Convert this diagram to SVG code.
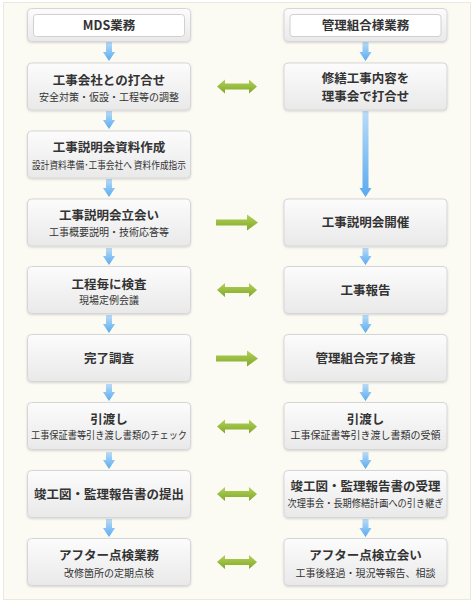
<svg xmlns="http://www.w3.org/2000/svg" width="474" height="603" viewBox="0 0 474 603">
<defs>
<linearGradient id="boxg" x1="0" y1="0" x2="0" y2="1"><stop offset="0" stop-color="#fcfcfc"/><stop offset="1" stop-color="#e9e9e9"/></linearGradient>
<linearGradient id="blueg" x1="0" y1="0" x2="0" y2="1"><stop offset="0" stop-color="#b9dcf7"/><stop offset="1" stop-color="#5aaaf0"/></linearGradient>
<linearGradient id="greeng" x1="0" y1="0" x2="0" y2="1"><stop offset="0" stop-color="#b3d159"/><stop offset="1" stop-color="#80a82a"/></linearGradient>
<filter id="sh" x="-5%" y="-10%" width="110%" height="130%"><feDropShadow dx="0" dy="1" stdDeviation="0.8" flood-color="#000" flood-opacity="0.15"/></filter>
</defs>
<style>
.box{fill:url(#boxg);stroke:#d6d6d6;stroke-width:1;filter:url(#sh)}
.inner{fill:#fff;stroke:#d0d0d0;stroke-width:1}
.t{font-family:"Noto Sans CJK JP","Noto Sans",sans-serif;font-weight:bold;font-size:12.5px;fill:#333;text-anchor:middle}
.h{font-family:"Noto Sans CJK JP","Noto Sans",sans-serif;font-weight:bold;font-size:12.5px;fill:#333;text-anchor:middle}
.s{font-family:"Noto Sans CJK JP","Noto Sans",sans-serif;font-size:10px;fill:#333;text-anchor:middle}
.b{fill:url(#blueg)}
.g{fill:url(#greeng)}
</style>
<rect x="0" y="0" width="474" height="603" fill="#ffffff"/>
<rect x="3.5" y="2.5" width="467" height="597" fill="#fbfaf3" stroke="#ebe9dc"/>

<g id="connectors">
<polygon class="b" points="106,42 112,42 112,52 115,52 109,61 103,52 106,52"/>
<polygon class="b" points="106,111 112,111 112,120 115,120 109,129 103,120 106,120"/>
<polygon class="b" points="106,179 112,179 112,188 115,188 109,197 103,188 106,188"/>
<polygon class="b" points="106,248 112,248 112,256 115,256 109,265 103,256 106,256"/>
<polygon class="b" points="106,315 112,315 112,324 115,324 109,333 103,324 106,324"/>
<polygon class="b" points="106,384 112,384 112,392 115,392 109,401 103,392 106,392"/>
<polygon class="b" points="106,452 112,452 112,460 115,460 109,469 103,460 106,460"/>
<polygon class="b" points="106,519 112,519 112,528 115,528 109,537 103,528 106,528"/>
<polygon class="b" points="362.5,42 368.5,42 368.5,52 371.5,52 365.5,61 359.5,52 362.5,52"/>
<polygon class="b" points="362.5,111 368.5,111 368.5,188 371.5,188 365.5,197 359.5,188 362.5,188"/>
<polygon class="b" points="362.5,248 368.5,248 368.5,256 371.5,256 365.5,265 359.5,256 362.5,256"/>
<polygon class="b" points="362.5,315 368.5,315 368.5,324 371.5,324 365.5,333 359.5,324 362.5,324"/>
<polygon class="b" points="362.5,384 368.5,384 368.5,392 371.5,392 365.5,401 359.5,392 362.5,392"/>
<polygon class="b" points="362.5,452 368.5,452 368.5,460 371.5,460 365.5,469 359.5,460 362.5,460"/>
<polygon class="b" points="362.5,519 368.5,519 368.5,528 371.5,528 365.5,537 359.5,528 362.5,528"/>
<polygon class="g" points="217,86.5 225,79.5 225,83.5 249,83.5 249,79.5 257,86.5 249,93.5 249,89.5 225,89.5 225,93.5"/>
<polygon class="g" points="216,219.5 247,219.5 247,214.5 258,222.5 247,230.5 247,225.5 216,225.5"/>
<polygon class="g" points="217,290 225,283 225,287 249,287 249,283 257,290 249,297 249,293 225,293 225,297"/>
<polygon class="g" points="216,355.5 247,355.5 247,350.5 258,358.5 247,366.5 247,361.5 216,361.5"/>
<polygon class="g" points="217,426.5 225,419.5 225,423.5 249,423.5 249,419.5 257,426.5 249,433.5 249,429.5 225,429.5 225,433.5"/>
<polygon class="g" points="217,494 225,487 225,491 249,491 249,487 257,494 249,501 249,497 225,497 225,501"/>
<polygon class="g" points="217,562 225,555 225,559 249,559 249,555 257,562 249,569 249,565 225,565 225,569"/>
</g>

<g id="hdr-left">
<rect class="box" x="27.5" y="8.5" width="163" height="33" rx="4"/>
<rect class="inner" x="33.5" y="14.5" width="151" height="22" rx="3"/>
<text class="h" x="109" y="30">MDS業務</text>
</g>
<g id="hdr-right">
<rect class="box" x="284" y="8.5" width="163" height="33" rx="4"/>
<rect class="inner" x="290" y="14.5" width="151" height="22" rx="3"/>
<text class="h" x="365.5" y="30">管理組合様業務</text>
</g>

<g id="l1"><rect class="box" x="27.5" y="63" width="163" height="47" rx="4"/>
<text class="t" x="109" y="84.5">工事会社との打合せ</text>
<text class="s" x="109" y="101">安全対策・仮設・工程等の調整</text></g>
<g id="l2"><rect class="box" x="27.5" y="131" width="163" height="47" rx="4"/>
<text class="t" x="109" y="152">工事説明会資料作成</text>
<text class="s" x="109" y="169" textLength="154" lengthAdjust="spacingAndGlyphs">設計資料準備･工事会社へ 資料作成指示</text></g>
<g id="l3"><rect class="box" x="27.5" y="199" width="163" height="47" rx="4"/>
<text class="t" x="109" y="220">工事説明会立会い</text>
<text class="s" x="109" y="236">工事概要説明・技術応答等</text></g>
<g id="l4"><rect class="box" x="27.5" y="266.5" width="163" height="47" rx="4"/>
<text class="t" x="109" y="288.5">工程毎に検査</text>
<text class="s" x="109" y="304">現場定例会議</text></g>
<g id="l5"><rect class="box" x="27.5" y="334.5" width="163" height="47" rx="4"/>
<text class="t" x="109" y="363">完了調査</text></g>
<g id="l6"><rect class="box" x="27.5" y="402.5" width="163" height="47" rx="4"/>
<text class="t" x="109" y="423.5">引渡し</text>
<text class="s" x="109" y="438.5" textLength="156" lengthAdjust="spacingAndGlyphs">工事保証書等引き渡し書類のチェック</text></g>
<g id="l7"><rect class="box" x="27.5" y="470.5" width="163" height="47" rx="4"/>
<text class="t" x="109" y="499">竣工図・監理報告書の提出</text></g>
<g id="l8"><rect class="box" x="27.5" y="538.5" width="163" height="47" rx="4"/>
<text class="t" x="109" y="559.5">アフター点検業務</text>
<text class="s" x="109" y="577">改修箇所の定期点検</text></g>

<g id="r1"><rect class="box" x="284" y="63" width="163" height="47" rx="4"/>
<text class="t" x="365.5" y="82.5">修繕工事内容を</text>
<text class="t" x="365.5" y="101">理事会で打合せ</text></g>
<g id="r3"><rect class="box" x="284" y="199" width="163" height="47" rx="4"/>
<text class="t" x="365.5" y="227">工事説明会開催</text></g>
<g id="r4"><rect class="box" x="284" y="266.5" width="163" height="47" rx="4"/>
<text class="t" x="365.5" y="295">工事報告</text></g>
<g id="r5"><rect class="box" x="284" y="334.5" width="163" height="47" rx="4"/>
<text class="t" x="365.5" y="363">管理組合完了検査</text></g>
<g id="r6"><rect class="box" x="284" y="402.5" width="163" height="47" rx="4"/>
<text class="t" x="365.5" y="423.5">引渡し</text>
<text class="s" x="365.5" y="438.5">工事保証書等引き渡し書類の受領</text></g>
<g id="r7"><rect class="box" x="284" y="470.5" width="163" height="47" rx="4"/>
<text class="t" x="365.5" y="491">竣工図・監理報告書の受理</text>
<text class="s" x="365.5" y="506.5" textLength="156" lengthAdjust="spacingAndGlyphs">次理事会・長期修繕計画への引き継ぎ</text></g>
<g id="r8"><rect class="box" x="284" y="538.5" width="163" height="47" rx="4"/>
<text class="t" x="365.5" y="559.5">アフター点検立会い</text>
<text class="s" x="365.5" y="577">工事後経過・現況等報告、相談</text></g>
</svg>
